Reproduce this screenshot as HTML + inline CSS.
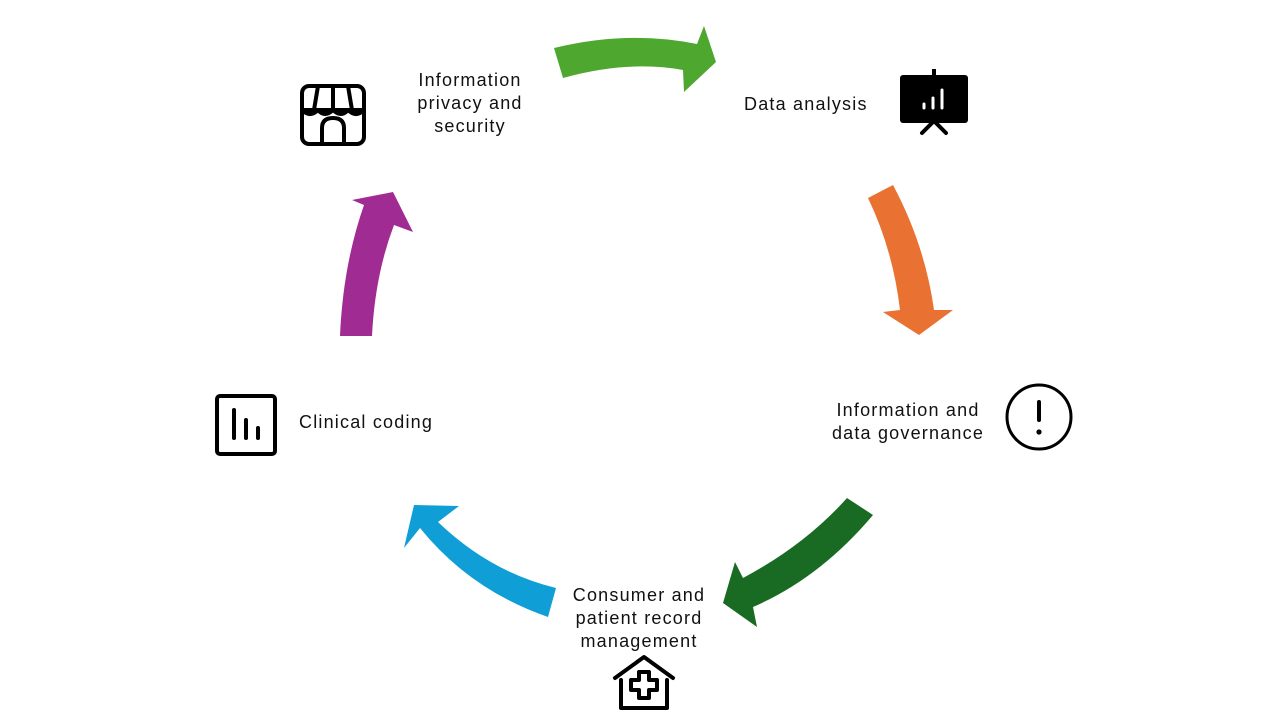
<!DOCTYPE html>
<html><head><meta charset="utf-8"><style>
html,body{margin:0;padding:0;background:#fff;}
body{width:1280px;height:720px;position:relative;overflow:hidden;font-family:"Liberation Sans",sans-serif;}
.t{position:absolute;font-size:18px;color:#111;line-height:23px;text-align:center;letter-spacing:1.2px;}
</style></head><body>
<svg width="1280" height="720" style="position:absolute;left:0;top:0">
<path d="M554,48 Q628,30 697,44 L704,26 L716,62 L684,92 L683,70 Q628,60 563,78 Z" fill="#4ea72e"/>
<path d="M868,198 L893,185 Q925,245 934,310 L953,310 L919,335 L883,312 L900,310 Q893,250 868,198 Z" fill="#e97132"/>
<path d="M847,498 L873,515 Q820,578 753,607 L757,627 L723,603 L735,562 L743,578 Q805,545 847,498 Z" fill="#196b24"/>
<path d="M548,617 Q470,590 420,528 L404,548 L414,505 L459,506 L438,522 Q490,572 556,588 Z" fill="#0f9ed5"/>
<path d="M340,336 Q343,265 364,205 L352,200 L393,192 L413,232 L394,225 Q375,275 372,336 Z" fill="#a02b93"/>
<g fill="none" stroke="#000" stroke-width="4" stroke-linejoin="round">
<rect x="302" y="86" width="62" height="58" rx="7"/>
<path d="M302,110 L364,110 M318,86 L314,110 M348,86 L352,110 M333,86 L333,110"/>
<path d="M302,110 Q310,118 318,110 Q325,118 333,110 Q341,118 348,110 Q356,118 364,110"/>
<path d="M322,144 L322,128 Q322,118 333,118 Q344,118 344,128 L344,144"/>
</g>
<rect x="900" y="75" width="68" height="48" rx="3" fill="#000"/>
<rect x="932" y="69" width="4" height="8" fill="#000"/>
<g stroke="#fff" stroke-width="3" stroke-linecap="round"><path d="M924,104 L924,108 M933,98 L933,108 M942,90 L942,108"/></g>
<path d="M922,133 L934,121 L946,133" fill="none" stroke="#000" stroke-width="4" stroke-linecap="round"/>
<circle cx="1039" cy="417" r="32" fill="none" stroke="#000" stroke-width="3"/>
<rect x="1037" y="400" width="4" height="22" rx="2" fill="#000"/>
<circle cx="1039" cy="432" r="2.6" fill="#000"/>
<rect x="217" y="396" width="58" height="58" rx="3" fill="none" stroke="#000" stroke-width="4"/>
<g stroke="#000" stroke-width="4" stroke-linecap="round"><path d="M234,410 L234,438 M246,420 L246,438 M258,428 L258,438"/></g>
<g fill="none" stroke="#000" stroke-width="4" stroke-linejoin="round" stroke-linecap="round">
<path d="M615,678 L644,657 L673,678"/>
<path d="M621,680 L621,708 L667,708 L667,680"/>
<path d="M639,672 L649,672 L649,680 L657,680 L657,690 L649,690 L649,698 L639,698 L639,690 L631,690 L631,680 L639,680 Z"/>
</g>
</svg>
<div class="t" style="left:390px;top:69px;width:160px;">Information<br>privacy and<br>security</div>
<div class="t" style="left:744px;top:93px;width:160px;text-align:left;">Data analysis</div>
<div class="t" style="left:815px;top:399px;width:186px;">Information and<br>data governance</div>
<div class="t" style="left:299px;top:411px;width:180px;text-align:left;">Clinical coding</div>
<div class="t" style="left:550px;top:584px;width:178px;">Consumer and<br>patient record<br>management</div>
</body></html>
